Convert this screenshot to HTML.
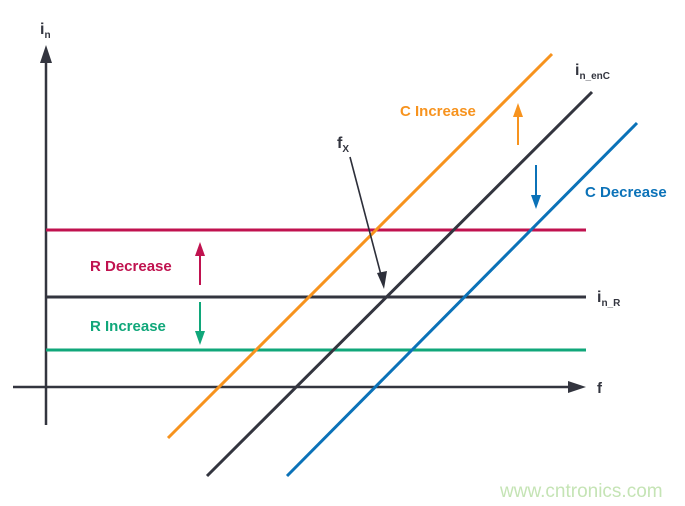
<!DOCTYPE html>
<html><head><meta charset="utf-8"><style>
html,body{margin:0;padding:0;background:#fff;}
svg{display:block;font-family:"Liberation Sans",sans-serif;font-weight:bold;}
</style></head><body>
<svg width="685" height="506" viewBox="0 0 685 506">
<!-- axes -->
<line x1="46" y1="60" x2="46" y2="425" stroke="#33353f" stroke-width="2.5"/>
<path d="M46,45 L40,63 L52,63Z" fill="#33353f"/>
<line x1="13" y1="387" x2="572" y2="387" stroke="#33353f" stroke-width="2.5"/>
<path d="M586,387 L568,381 L568,393Z" fill="#33353f"/>
<!-- horizontals -->
<line x1="46" y1="230" x2="586" y2="230" stroke="#c0124f" stroke-width="3"/>
<line x1="46" y1="297" x2="586" y2="297" stroke="#33353f" stroke-width="3"/>
<line x1="46" y1="350" x2="586" y2="350" stroke="#10a77a" stroke-width="3"/>
<!-- diagonals -->
<line x1="168" y1="438" x2="552" y2="54" stroke="#f7931e" stroke-width="3"/>
<line x1="207" y1="476" x2="592" y2="92" stroke="#33353f" stroke-width="3"/>
<line x1="287" y1="476" x2="637" y2="123" stroke="#0b72b8" stroke-width="3"/>
<!-- small arrows -->
<line x1="518" y1="145" x2="518" y2="115" stroke="#f7931e" stroke-width="2"/>
<path d="M518,103 L513,117 L523,117Z" fill="#f7931e"/>
<line x1="536" y1="165" x2="536" y2="196" stroke="#0b72b8" stroke-width="2"/>
<path d="M536,209 L531,195 L541,195Z" fill="#0b72b8"/>
<line x1="200" y1="285" x2="200" y2="254" stroke="#c0124f" stroke-width="2"/>
<path d="M200,242 L195,256 L205,256Z" fill="#c0124f"/>
<line x1="200" y1="302" x2="200" y2="332" stroke="#10a77a" stroke-width="2"/>
<path d="M200,345 L195,331 L205,331Z" fill="#10a77a"/>
<!-- fx arrow -->
<line x1="350" y1="157" x2="381" y2="275" stroke="#2d2f3a" stroke-width="1.6"/>
<path d="M384,289 L377,273 L387,271Z" fill="#2d2f3a"/>
<!-- labels -->
<text x="40" y="34" font-size="16" fill="#33353f">i<tspan font-size="10" dy="4">n</tspan></text>
<text x="337" y="148" font-size="16" fill="#33353f">f<tspan font-size="10" dy="4">X</tspan></text>
<text x="575" y="75" font-size="16" fill="#33353f">i<tspan font-size="10" dy="4">n_enC</tspan></text>
<text x="597" y="302" font-size="16" fill="#33353f">i<tspan font-size="10" dy="4">n_R</tspan></text>
<text x="597" y="393" font-size="15" fill="#33353f">f</text>
<text x="400" y="116" font-size="15" fill="#f7931e">C Increase</text>
<text x="585" y="197" font-size="15" fill="#0b72b8">C Decrease</text>
<text x="90" y="271" font-size="15" fill="#c0124f">R Decrease</text>
<text x="90" y="331" font-size="15" fill="#10a77a">R Increase</text>
<text x="500" y="497" font-size="19" font-weight="normal" fill="#c5e4b5">www.cntronics.com</text>
</svg>
</body></html>
